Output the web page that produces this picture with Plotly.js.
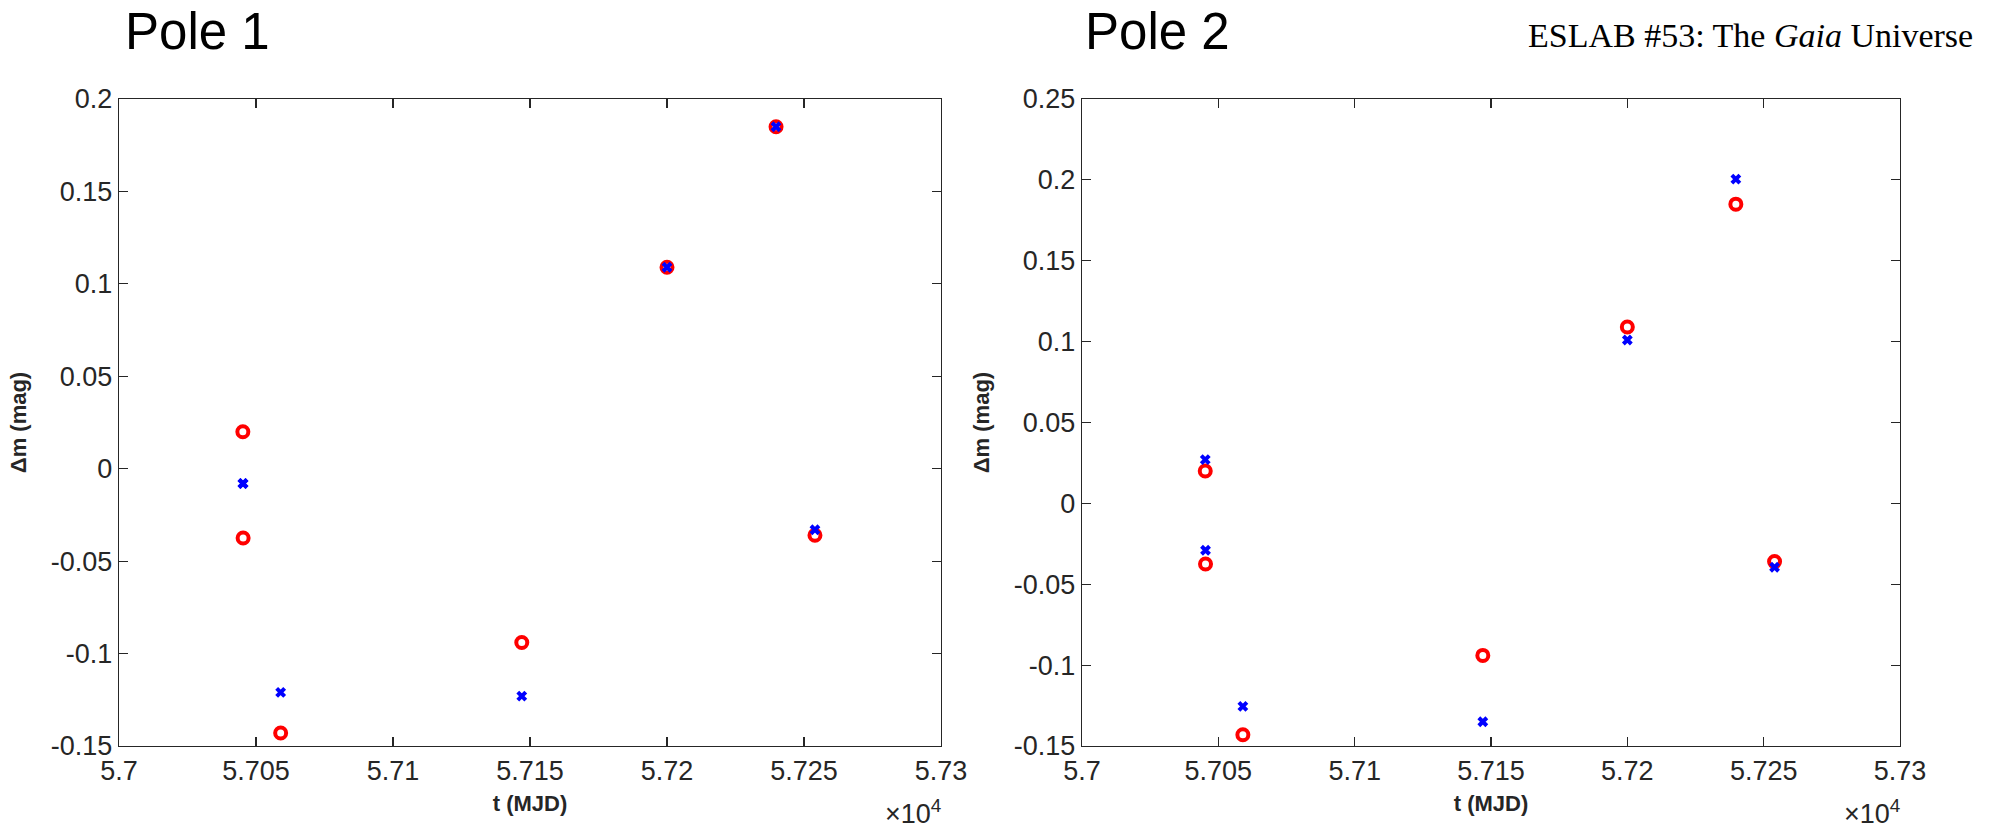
<!DOCTYPE html>
<html>
<head>
<meta charset="utf-8">
<script src="https://cdn.plot.ly/plotly-3.0.1.min.js"></script>
<style>
html,body{margin:0;padding:0;background:#fff;}
#chart{width:2003px;height:833px;}
</style>
</head>
<body>
<div id="chart"></div>
<script>
// Observation epochs (MJD)
const tObs = [57045.2, 57045.3, 57059.0, 57147.0, 57200.0, 57239.8, 57254.0];
// Observed brightness variation (red circles), same in both panels
const obsMag = [0.020, -0.0375, -0.143, -0.094, 0.109, 0.185, -0.036];
// Model for pole 1 (blue crosses)
const pole1Model = [-0.008, -0.008, -0.121, -0.123, 0.109, 0.185, -0.033];
// Model for pole 2 (blue crosses)
const pole2Model = [0.027, -0.029, -0.1255, -0.135, 0.101, 0.2005, -0.0395];

const xTickVals = [57000, 57050, 57100, 57150, 57200, 57250, 57300];
const xTickText = ["5.7", "5.705", "5.71", "5.715", "5.72", "5.725", "5.73"];
const y1TickVals = [-0.15, -0.1, -0.05, 0, 0.05, 0.1, 0.15, 0.2];
const y1TickText = ["-0.15", "-0.1", "-0.05", "0", "0.05", "0.1", "0.15", "0.2"];
const y2TickVals = [-0.15, -0.1, -0.05, 0, 0.05, 0.1, 0.15, 0.2, 0.25];
const y2TickText = ["-0.15", "-0.1", "-0.05", "0", "0.05", "0.1", "0.15", "0.2", "0.25"];

const panelTitles = ["Pole 1", "Pole 2"];

const W = 2003, H = 833;
const axColor = '#262626';
const tickFont = {family: 'Liberation Sans, Arial, sans-serif', size: 27, color: axColor};
const labFont = {family: 'Liberation Sans, Arial, sans-serif', size: 22, color: axColor, weight: 'bold'};

function circleTrace(x, y, xa, ya) {
  return {x: x, y: y, xaxis: xa, yaxis: ya, type: 'scatter', mode: 'markers',
    marker: {symbol: 'circle-open', size: 11, color: '#ff0000', line: {width: 4, color: '#ff0000'}},
    showlegend: false, hoverinfo: 'x+y'};
}
function crossTrace(x, y, xa, ya) {
  return {x: x, y: y, xaxis: xa, yaxis: ya, type: 'scatter', mode: 'markers',
    marker: {symbol: 'x-thin-open', size: 8, color: '#0000ff', line: {width: 4, color: '#0000ff'}},
    showlegend: false, hoverinfo: 'x+y'};
}

const data = [
  circleTrace(tObs, obsMag, 'x', 'y'),
  crossTrace(tObs, pole1Model, 'x', 'y'),
  circleTrace(tObs, obsMag, 'x2', 'y2'),
  crossTrace(tObs, pole2Model, 'x2', 'y2')
];

const yDom = [1 - 746/H, 1 - 99/H];
function xAxis(dom, anchor) {
  return {domain: dom, anchor: anchor, range: [57000, 57300], tickmode: 'array',
    tickvals: xTickVals, ticktext: xTickText, ticks: 'inside', ticklen: 9, tickwidth: 1.2,
    tickcolor: axColor, showline: true, linecolor: axColor, linewidth: 1.4, mirror: 'ticks',
    showgrid: false, zeroline: false, tickfont: tickFont,
    title: {text: 't (MJD)', font: labFont, standoff: 11}};
}
function yAxis(range, vals, text, anchor) {
  return {domain: yDom, anchor: anchor, range: range, tickmode: 'array',
    tickvals: vals, ticktext: text, ticks: 'inside', ticklen: 9, tickwidth: 1.2,
    tickcolor: axColor, showline: true, linecolor: axColor, linewidth: 1.4, mirror: 'ticks',
    showgrid: false, zeroline: false, tickfont: tickFont,
    title: {text: 'Δm (mag)', font: labFont, standoff: 18}};
}

const layout = {
  width: W, height: H,
  margin: {l: 0, r: 0, t: 0, b: 0},
  paper_bgcolor: '#ffffff', plot_bgcolor: '#ffffff',
  xaxis: xAxis([119/W, 941/W], 'y'),
  yaxis: yAxis([-0.15, 0.2], y1TickVals, y1TickText, 'x'),
  xaxis2: xAxis([1082/W, 1900/W], 'y2'),
  yaxis2: yAxis([-0.15, 0.25], y2TickVals, y2TickText, 'x2'),
  annotations: [
    {text: panelTitles[0], xref: 'paper', yref: 'paper', x: 123/W, y: 1 - 32/H, xanchor: 'left', yanchor: 'middle',
     showarrow: false, font: {family: 'Liberation Sans, Arial, sans-serif', size: 51, color: '#000'}},
    {text: panelTitles[1], xref: 'paper', yref: 'paper', x: 1083/W, y: 1 - 32/H, xanchor: 'left', yanchor: 'middle',
     showarrow: false, font: {family: 'Liberation Sans, Arial, sans-serif', size: 51, color: '#000'}},
    {text: 'ESLAB #53: The <i>Gaia</i> Universe', xref: 'paper', yref: 'paper', x: 1975/W, y: 1 - 36/H,
     xanchor: 'right', yanchor: 'middle', showarrow: false,
     font: {family: 'Liberation Serif, Times New Roman, serif', size: 34, color: '#000'}},
    {text: '×10<sup>4</sup>', xref: 'paper', yref: 'paper', x: 943/W, y: 1 - 831/H, xanchor: 'right', yanchor: 'bottom',
     showarrow: false, font: {family: 'Liberation Sans, Arial, sans-serif', size: 27, color: axColor}},
    {text: '×10<sup>4</sup>', xref: 'paper', yref: 'paper', x: 1902/W, y: 1 - 831/H, xanchor: 'right', yanchor: 'bottom',
     showarrow: false, font: {family: 'Liberation Sans, Arial, sans-serif', size: 27, color: axColor}}
  ]
};

Plotly.newPlot('chart', data, layout, {staticPlot: true, displayModeBar: false});
</script>
</body>
</html>
